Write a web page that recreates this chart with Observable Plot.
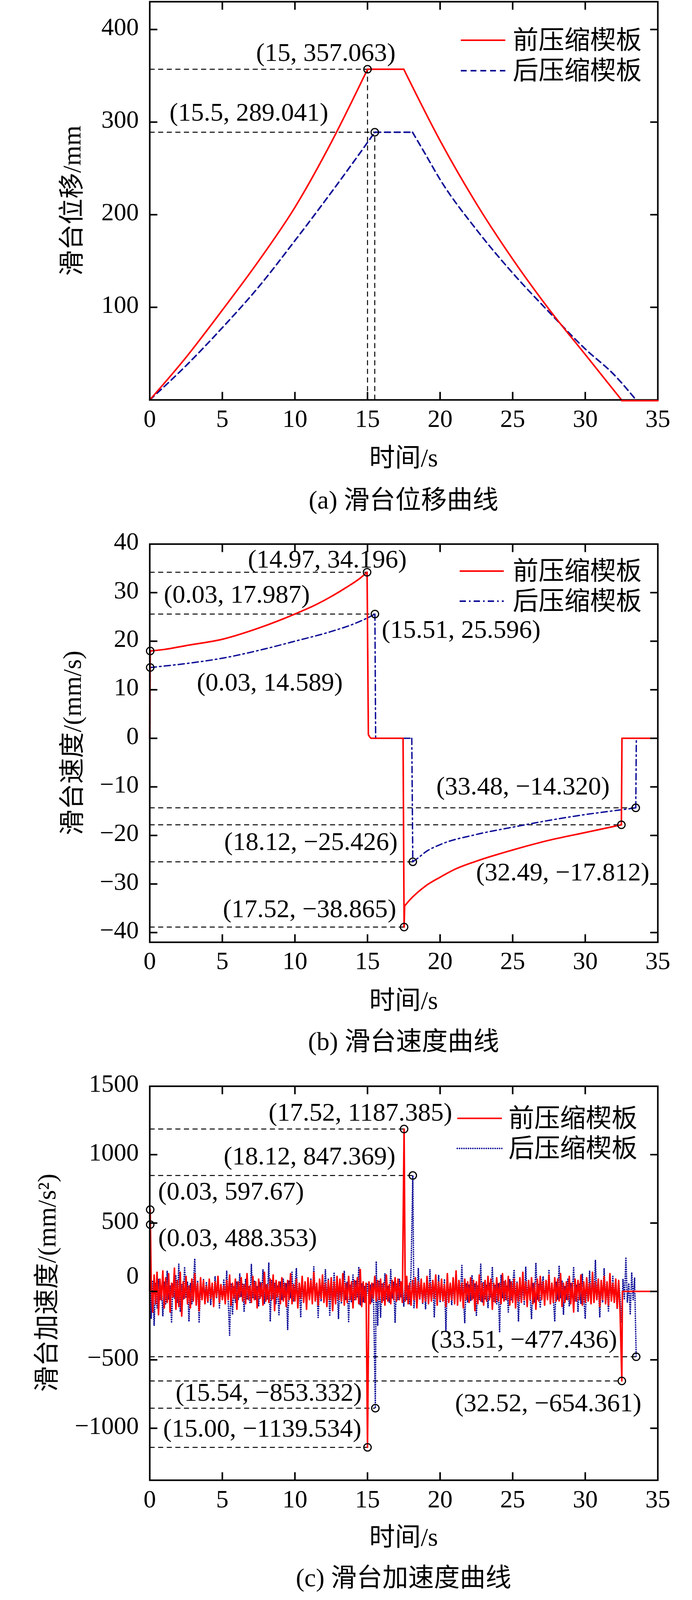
<!DOCTYPE html>
<html>
<head>
<meta charset="utf-8">
<script src="https://cdn.jsdelivr.net/npm/d3@7"></script>
<script src="https://cdn.jsdelivr.net/npm/@observablehq/plot@0.6"></script>
<style>
html,body{margin:0;padding:0;background:#fff;overflow:hidden;}
#root{position:relative;width:1772px;height:4199px;background:#fff;font-family:"Liberation Serif","Times New Roman",Times,"DejaVu Serif","Noto Sans CJK SC",serif;color:#000;overflow:hidden}
.panel{position:absolute;left:0;width:1772px}
.panel svg text{font-family:"Liberation Serif","Times New Roman",Times,"DejaVu Serif","Noto Sans CJK SC",serif}
.cap,.leg,.ttl{position:absolute;font-size:66px;line-height:1;white-space:nowrap}
.cap{transform:translate(-50%,-50%)}
.ttl{transform:translate(-50%,-50%) rotate(-90deg)}
.leg{transform:translateY(-50%)}
.legline{position:absolute;overflow:visible}
</style>
</head>
<body>
<div id="root"></div>
<script>
// ---------------- data ----------------
const seriesNames = ["前压缩楔板", "后压缩楔板"];
const captions = ["(a) 滑台位移曲线", "(b) 滑台速度曲线", "(c) 滑台加速度曲线"];
const yTitles = ["滑台位移/mm", "滑台速度/(mm/s)", "滑台加速度/(mm/s²)"];
const xTitle = "时间/s";
const xTickLabels = [0, 5, 10, 15, 20, 25, 30, 35];
const xTickMarks = [5, 10, 15, 20, 25, 30];

// (a) displacement, mm
const dispTicks = [100, 200, 300, 400];
const dispRedRise = [[0,0],[2.5,46],[5,97],[7.5,150],[10,208],[12.5,278],[15,357.063]];
const dispRedHold = [[15,357.063],[17.5,357.063]];
const dispRedFall = [[17.5,357.063],[20,280],[22.5,212],[25,152],[27.5,98],[30,49],[32.5,0]];
const dispRedRest = [[32.5,0],[35,0]];
const dispBlueRise = [[0,0],[2.5,37],[5,78],[7.5,122],[10,172],[12.5,224],[15,278],[15.5,289.041]];
const dispBlueHold = [[15.5,289.041],[18.1,289.041]];
const dispBlueFall = [[18.1,289.041],[19,265],[20,238],[22.5,184],[25,137],[27.5,95],[30,55],[32,27],[33.5,0]];
const dispPoints = [[15,357.063],[15.5,289.041]];
const dispLabels = ["(15, 357.063)", "(15.5, 289.041)"];

// (b) velocity, mm/s
const velTickMarks = [-40,-30,-20,-10,0,10,20,30];
const velTickLabels = [-40,-30,-20,-10,0,10,20,30,40];
const velRedSegs = [
  [[0,0],[0.03,17.987]],
  [[0.03,17.987],[1,18.3],[2.5,19.1],[5,20.4],[7.5,22.7],[10,25.6],[11.5,27.6],[12.5,29.2],[13.5,31.0],[14.5,33.0],[14.97,34.196]],
  [[14.97,34.196],[15.06,0.8],[15.25,0]],
  [[15.25,0],[17.45,0],[17.52,-38.865]],
  [[17.52,-38.865],[17.56,-34.5]],
  [[17.56,-34.5],[18,-33.0],[18.5,-31.6],[19,-30.4],[20,-28.6],[21,-27.0],[22.5,-25.3],[25,-23.0],[27.5,-21.0],[30,-19.4],[32.49,-17.812]],
  [[32.49,-17.812],[32.53,0]],
  [[32.53,0],[35,0]]
];
const velBlueSegs = [
  [[0,0],[0.03,14.589]],
  [[0.03,14.589],[2.5,15.4],[5,16.5],[7.5,18.1],[10,20.0],[12.5,22.0],[14,23.5],[15,24.8],[15.51,25.596]],
  [[15.51,25.596],[15.56,0]],
  [[15.56,0],[18.05,0]],
  [[18.05,0],[18.12,-25.426]],
  [[18.12,-25.426],[18.5,-24.6],[19,-23.4],[20,-21.9],[22.5,-19.8],[25,-18.3],[27.5,-16.9],[30,-15.7],[32,-14.9],[33.48,-14.32]],
  [[33.48,-14.32],[33.52,0]],
  [[33.52,0],[35,0]]
];
const velPoints = [[14.97,34.196],[0.03,17.987],[15.51,25.596],[0.03,14.589],[33.48,-14.320],[18.12,-25.426],[32.49,-17.812],[17.52,-38.865]];
const velLabels = ["(14.97, 34.196)","(0.03, 17.987)","(15.51, 25.596)","(0.03, 14.589)","(33.48, \u221214.320)","(18.12, \u221225.426)","(32.49, \u221217.812)","(17.52, \u221238.865)"];

// (c) acceleration, mm/s^2 — noise read every 0.1 s
const accTickMarks = [-1000,-500,0,500,1000];
const accTickLabels = [-1000,-500,500,1000,1500];
const accZeroLabel = [0];
const accRedNoise = [
  60,-150,120,-90,140,-170,90,-60,150,-120,
  100,-80,130,-150,60,-40,170,-130,80,-110,
  140,-180,70,-50,110,-90,40,-120,90,-70,
  130,-100,60,-140,100,-60,80,-90,40,-70,
  90,-50,60,-110,70,-40,110,-80,50,-60,
  40,-90,80,-60,120,-100,60,-50,90,-130,
  70,-40,100,-70,50,-90,130,-60,40,-80,
  110,-60,70,-120,90,-50,60,-100,140,-70,
  50,-80,90,-60,120,-140,80,-40,70,-90,
  100,-70,60,-110,80,-60,130,-90,50,-70,
  90,-120,60,-50,110,-80,70,-130,100,-60,
  80,-90,140,-70,60,-100,90,-50,120,-80,
  60,-110,80,-60,100,-140,70,-90,110,-60,
  90,-70,130,-100,60,-80,110,-60,70,-120,
  80,-60,100,-90,160,-110,70,-80,60,-50,
  70,-90,60,-50,110,-70,80,-60,90,-80,
  60,-100,120,-70,50,-90,80,-60,100,-70,
  90,-60,70,-80,60,-70,110,-90,60,-100,
  80,-60,100,-120,70,-50,90,-80,60,-70,
  110,-90,60,-70,80,-50,120,-100,70,-60,
  90,-70,50,-110,130,-80,60,-60,100,-90,
  150,-100,80,-70,60,-120,90,-60,70,-80,
  100,-60,80,-140,70,-90,120,-70,60,-100,
  80,-70,110,-60,90,-130,60,-80,100,-70,
  60,-90,130,-70,80,-60,110,-100,70,-80,
  90,-120,60,-70,100,-80,140,-60,70,-110,
  80,-60,100,-90,60,-130,90,-70,110,-60,
  70,-100,80,-60,120,-90,60,-80,100,-70,
  90,-70,130,-110,60,-80,70,-60,110,-90,
  60,-150,90,-70,80,-60,120,-100,70,-80,
  100,-70,60,-90,140,-80,70,-60,90,-110,
  80,-60,110,-90,70,-100,130,-70,60,-80,
  90,-120,80,-150
];
const accBlueNoise = [
  -200,80,-250,60,-120,90,-60,40,-180,70,
  -90,150,-60,40,-230,60,-50,120,-80,200,
  -150,50,-60,180,-40,70,-220,60,-90,40,
  240,-60,80,-230,50,-60,90,-40,70,-80,
  60,-100,40,-70,110,-50,80,-120,50,-60,
  90,-40,150,-60,-320,60,-170,40,-80,70,
  -60,130,-40,60,-150,90,-60,40,-80,200,
  -50,80,-60,40,-110,70,-40,160,-90,50,
  -60,210,-220,80,-50,60,-90,40,-170,70,
  -60,90,-40,60,-280,80,-50,140,-70,40,
  170,-60,50,-190,80,-40,70,-100,60,-50,
  90,-60,180,-40,60,-190,50,-70,80,-40,
  160,-60,90,-180,60,-40,140,-70,50,-200,
  60,-90,40,150,-60,70,-220,50,-80,120,
  -60,80,-40,180,-100,60,-80,40,-70,60,
  -60,50,-80,60,0,220,-250,80,-190,60,
  -70,130,-60,40,-80,160,-50,70,-230,60,
  -60,90,-40,60,-110,70,-60,40,-90,150,
  0,-120,60,-80,170,-60,50,-90,40,-130,
  60,-70,160,-50,80,-190,50,-60,120,-80,
  40,-60,90,-290,70,-40,60,-100,50,-70,
  140,-60,80,-50,190,-40,-230,60,-80,50,
  -70,120,-50,60,-180,40,-60,200,-80,70,
  -60,50,-120,60,-40,180,-70,50,-90,60,
  -300,120,-50,70,-60,40,-150,90,-60,50,
  160,-50,70,-220,60,-80,40,-100,180,-60,
  70,-40,-200,60,-80,210,-60,50,-120,40,
  110,-60,70,-50,160,-90,60,-40,-220,70,
  -60,190,-50,80,-170,40,-60,90,-110,60,
  -40,180,-70,50,-150,60,-90,130,-50,-200,
  60,-70,150,-40,80,-60,230,-50,70,-190,
  60,-80,170,-50,40,-150,90,-60,110,-70,
  50,-130,80,-40,-230,90,-60,250,-80,60,
  -170,140,-60,100
];
const accRedSpikes = [[0,0],[0.03,597.67],[15.00,-1139.534],[17.52,1187.385],[32.52,-654.361]];
const accRedTail = [[32.56,0],[35,0]];
const accBlueSpikes = [[0,0],[0.03,488.353],[15.54,-853.332],[18.12,847.369],[33.51,-477.436]];
const accBlueTail = [];
const accPoints = [[17.52,1187.385],[18.12,847.369],[0.03,597.67],[0.03,488.353],[33.51,-477.436],[15.54,-853.332],[32.52,-654.361],[15.00,-1139.534]];
const accLabels = ["(17.52, 1187.385)","(18.12, 847.369)","(0.03, 597.67)","(0.03, 488.353)","(33.51, \u2212477.436)","(15.54, \u2212853.332)","(32.52, \u2212654.361)","(15.00, \u22121139.534)"];

// ---------------- layout (pixels / label anchors, kept apart from data) ----------------
const W = 1772, H = 4199, ML = 383, MR = 88;
// fit the whole figure into the visible viewport height
const S = (window.innerHeight > 0 && window.innerHeight < H) ? window.innerHeight / H : 1;
const sy = v => v * S;
const FONT = '"Liberation Serif","Times New Roman",Times,"DejaVu Serif","Noto Sans CJK SC",serif';
const RED = "#ff0000", BLUE = "#0b0b96";
const layoutA = {top: 0, height: 1110, marginTop: 4, frameH: 1045, yDomain: [0, 430], titleX: 184, xTitleY: 1201,
  labelAt: [[12.13, 374.9], [6.83, 310.3]], legendY: [106, 186], legendX: [1180, 1294, 1313], captionY: 1312};
const layoutB = {top: 1360, height: 1200, marginTop: 67, frameH: 1045, yDomain: [-42, 40], titleX: 185, xTitleY: 2625,
  labelAt: [[12.23,36.9],[6.0,29.6],[21.45,22.4],[8.27,11.5],[25.71,-9.9],[11.10,-21.3],[28.45,-27.6],[11.01,-35.1]],
  legendY: [1499, 1578], legendX: [1177, 1290, 1313], captionY: 2733};
const layoutC = {top: 2780, height: 1190, marginTop: 70, frameH: 1034, yDomain: [-1380, 1500], titleX: 120, xTitleY: 4034,
  labelAt: [[14.51,1308],[11.01,990],[5.6,733],[6.05,392],[25.78,-350],[8.2,-740],[27.45,-815],[7.75,-1002]],
  legendY: [2935, 3014], legendX: [1171, 1285, 1302], captionY: 4141};

const fmt = d => d < 0 ? "\u2212" + Math.abs(d) : String(d);
const toRows = (segs, name) => segs.flatMap((seg, i) => seg.map(([t, v]) => ({t, v, seg: name + i})));
const toPts = (pts, labels, at) => pts.map(([t, v], i) => ({t, v, label: labels[i], lx: at[i][0], ly: at[i][1]}));
function accRows(noise, spikes, tail) {
  const pts = noise.map((v, i) => ({t: (i + 1) / 10, v}))
    .filter(p => !spikes.some(([t]) => Math.abs(t - p.t) < 0.055));
  spikes.forEach(([t, v]) => pts.push({t, v}));
  tail.forEach(([t, v]) => pts.push({t, v}));
  return pts.sort((a, b) => a.t - b.t);
}

const root = document.getElementById("root");
root.style.height = sy(H) + "px";

function frameAxes(yMarks, yLabels) {
  const c = {label: null, strokeWidth: 4, tickFormat: () => ""};
  return [
    Plot.axisX(xTickMarks, {anchor: "bottom", tickSize: -20, ...c}),
    Plot.axisX(xTickMarks, {anchor: "top", tickSize: -20, ...c}),
    Plot.axisY(yMarks, {anchor: "left", tickSize: -20, ...c}),
    Plot.axisY(yMarks, {anchor: "right", tickSize: -20, ...c}),
    Plot.axisX(xTickLabels, {anchor: "bottom", tickSize: 0, tickPadding: sy(49) - 24, fontSize: 64, fontFamily: FONT, tickFormat: fmt, label: null}),
    Plot.axisY(yLabels, {anchor: "left", tickSize: 0, tickPadding: 28, dy: sy(-6), fontSize: 64, fontFamily: FONT, tickFormat: fmt, label: null}),
    Plot.frame({stroke: "black", strokeWidth: 4})
  ];
}

function addText(cls, text, x, y) {
  const el = document.createElement("div");
  el.className = cls;
  el.style.left = x + "px";
  el.style.top = y + "px";
  el.textContent = text;
  root.appendChild(el);
}

function makePanel(L, idx, marks, yMarks, yLabels, extra = []) {
  const h = sy(L.height), mt = sy(L.marginTop), fh = sy(L.frameH);
  const chart = Plot.plot({
    width: W, height: h,
    marginLeft: ML, marginRight: MR, marginTop: mt,
    marginBottom: h - mt - fh,
    x: {domain: [0, 35]},
    y: {domain: L.yDomain},
    style: {fontFamily: FONT, background: "transparent", color: "black", overflow: "visible"},
    marks: [...marks, ...frameAxes(yMarks, yLabels), ...extra]
  });
  d3.select(chart).attr("font-family", FONT).selectAll("text").attr("font-family", FONT);
  const div = document.createElement("div");
  div.className = "panel";
  div.style.top = sy(L.top) + "px";
  div.appendChild(chart);
  root.appendChild(div);
  const cx = (ML + (W - MR)) / 2;
  addText("ttl", yTitles[idx], L.titleX, sy(L.top + L.marginTop + L.frameH / 2));
  addText("cap", xTitle, cx, sy(L.xTitleY));
  addText("cap", captions[idx], cx, sy(L.captionY));
}

function addLegend(L, blueStyle) {
  const styles = [{dash: null, cap: "butt"}, blueStyle];
  const colors = [RED, BLUE];
  [0, 1].forEach(i => {
    const y = sy(L.legendY[i]);
    const [x1, x2, tx] = L.legendX;
    const svg = d3.create("svg").attr("class", "legline")
      .attr("width", x2 - x1).attr("height", 20)
      .style("left", x1 + "px").style("top", (y - 10) + "px");
    svg.append("line").attr("x1", 0).attr("x2", x2 - x1).attr("y1", 10).attr("y2", 10)
      .attr("stroke", colors[i]).attr("stroke-width", 4)
      .attr("stroke-dasharray", styles[i].dash).attr("stroke-linecap", styles[i].cap);
    root.appendChild(svg.node());
    addText("leg", seriesNames[i], tx, y);
  });
}

const dashStyle = {stroke: "black", strokeWidth: 2.5, strokeDasharray: "13,9"};
const dotStyle = {r: 9.5, stroke: "black", strokeWidth: 3, fill: "none"};
const labelStyle = {fontSize: 66, fontFamily: FONT, textAnchor: "middle", lineAnchor: "middle"};

// ---- panel (a)
{
  const red = toRows([dispRedRise, dispRedHold, dispRedFall], "r");
  const redRest = toRows([dispRedRest], "rr");
  const blue = toRows([dispBlueRise, dispBlueHold, dispBlueFall], "b");
  const pts = toPts(dispPoints, dispLabels, layoutA.labelAt);
  makePanel(layoutA, 0, [
    Plot.ruleY(pts, {y: "v", x1: 0, x2: "t", ...dashStyle}),
    Plot.ruleX(pts, {x: "t", y1: 0, y2: "v", ...dashStyle}),
    Plot.line(blue, {x: "t", y: "v", z: "seg", stroke: BLUE, strokeWidth: 4, strokeDasharray: "15,10", curve: "monotone-x"}),
    Plot.line(red, {x: "t", y: "v", z: "seg", stroke: RED, strokeWidth: 4, curve: "monotone-x"}),
    Plot.dot(pts, {x: "t", y: "v", ...dotStyle}),
    Plot.text(pts, {x: "lx", y: "ly", text: "label", ...labelStyle})
  ], dispTicks, dispTicks, [
    // the resting segment lies on the bottom edge and is drawn over the frame
    Plot.line(redRest, {x: "t", y: "v", stroke: RED, strokeWidth: 4, dy: 2})
  ]);
  addLegend(layoutA, {dash: "15,10", cap: "butt"});
}

// ---- panel (b)
{
  const red = toRows(velRedSegs, "r");
  const blue = toRows(velBlueSegs, "b");
  const pts = toPts(velPoints, velLabels, layoutB.labelAt);
  makePanel(layoutB, 1, [
    Plot.ruleY(pts, {y: "v", x1: 0, x2: "t", ...dashStyle}),
    Plot.line(blue, {x: "t", y: "v", z: "seg", stroke: BLUE, strokeWidth: 3.5, strokeDasharray: "16,8,4,8", curve: "monotone-x"}),
    Plot.line(red, {x: "t", y: "v", z: "seg", stroke: RED, strokeWidth: 4, curve: "monotone-x"}),
    Plot.dot(pts, {x: "t", y: "v", ...dotStyle}),
    Plot.text(pts, {x: "lx", y: "ly", text: "label", ...labelStyle})
  ], velTickMarks, velTickLabels);
  addLegend(layoutB, {dash: "16,8,4,8", cap: "butt"});
}

// ---- panel (c)
{
  const red = accRows(accRedNoise, accRedSpikes, accRedTail);
  const blue = accRows(accBlueNoise, accBlueSpikes, accBlueTail);
  const pts = toPts(accPoints, accLabels, layoutC.labelAt);
  makePanel(layoutC, 2, [
    Plot.ruleY(pts, {y: "v", x1: 0, x2: "t", ...dashStyle}),
    Plot.line(blue, {x: "t", y: "v", stroke: BLUE, strokeWidth: 4, strokeDasharray: "0.1,5.6", strokeLinecap: "round"}),
    Plot.line(red, {x: "t", y: "v", stroke: RED, strokeWidth: 4}),
    Plot.dot(pts, {x: "t", y: "v", ...dotStyle}),
    Plot.text(pts, {x: "lx", y: "ly", text: "label", ...labelStyle})
  ], accTickMarks, accTickLabels, [
    Plot.text(accZeroLabel, {y: d => d, frameAnchor: "left", dx: -28, dy: sy(-42), textAnchor: "end", lineAnchor: "middle", text: d => fmt(d), fontSize: 64, fontFamily: FONT})
  ]);
  addLegend(layoutC, {dash: "0.1,5.6", cap: "round"});
}
</script>
</body>
</html>
